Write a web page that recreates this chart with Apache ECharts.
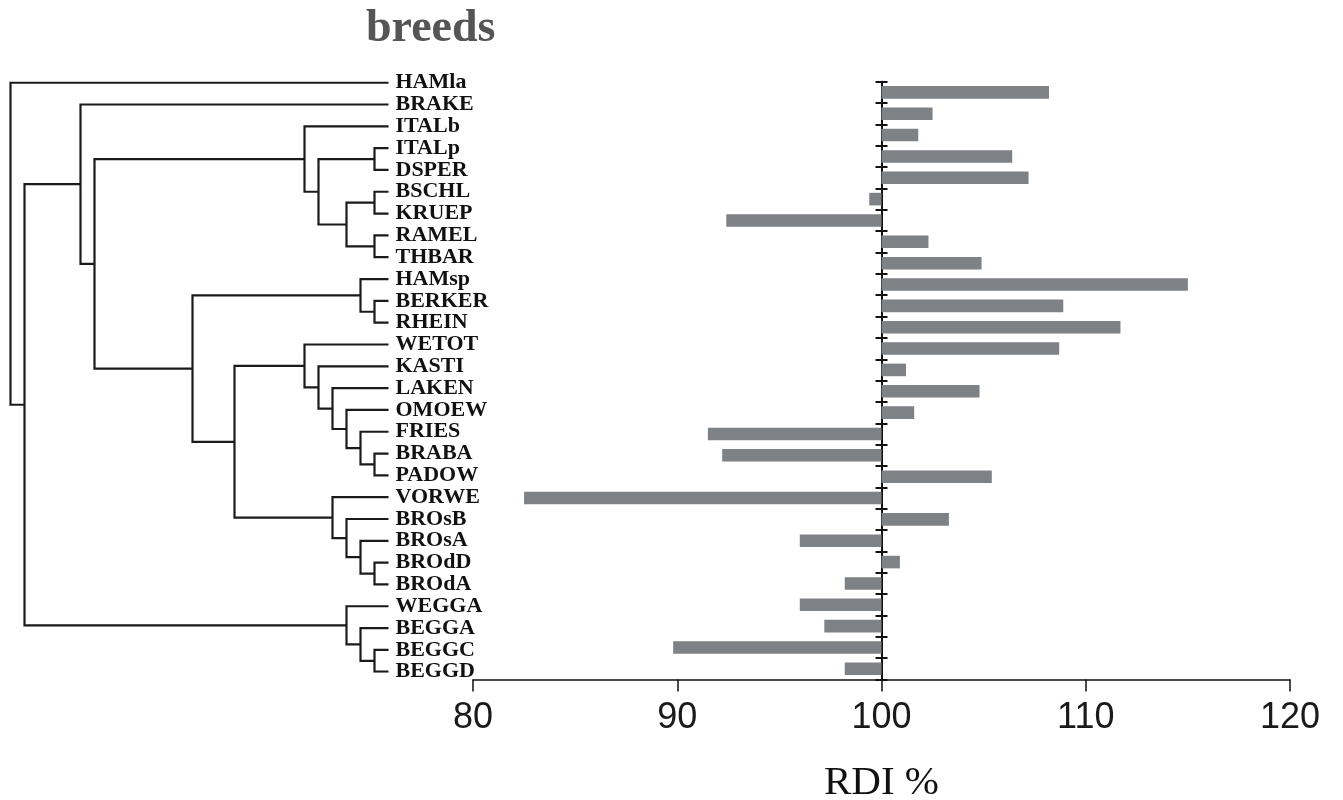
<!DOCTYPE html>
<html><head><meta charset="utf-8">
<script src="https://cdn.jsdelivr.net/npm/echarts@6/dist/echarts.min.js"></script>
<style>html,body{margin:0;padding:0;background:#fff}#c{width:1343px;height:800px}</style>
</head><body><div id="c"></div>
<script>
// ---- data ----
const breeds = ['HAMla','BRAKE','ITALb','ITALp','DSPER','BSCHL','KRUEP','RAMEL','THBAR','HAMsp','BERKER','RHEIN','WETOT','KASTI','LAKEN','OMOEW','FRIES','BRABA','PADOW','VORWE','BROsB','BROsA','BROdD','BROdA','WEGGA','BEGGA','BEGGC','BEGGD'];
const rdi = [108.2,102.5,101.8,106.4,107.2,99.4,92.4,102.3,104.9,115.0,108.9,111.7,108.7,101.2,104.8,101.6,91.5,92.2,105.4,82.5,103.3,96.0,100.9,98.2,96.0,97.2,89.8,98.2];
// dendrogram merges (node "m<i>" = i-th merge)
const mergeA = ['ITALp','BSCHL','RAMEL','m1','m0','ITALb','BERKER','HAMsp','BRABA','FRIES','OMOEW','LAKEN','KASTI','WETOT','BROdD','BROsA','BROsB','VORWE','m13','m7','m5','BRAKE','BEGGC','BEGGA','WEGGA','m21','HAMla'];
const mergeB = ['DSPER','KRUEP','THBAR','m2','m3','m4','RHEIN','m6','PADOW','m8','m9','m10','m11','m12','BROdA','m14','m15','m16','m17','m18','m19','m20','BEGGD','m22','m23','m24','m25'];
const mergeLevel = [1,1,1,3,5,6,1,2,1,2,3,4,5,6,1,2,3,4,11,14,21,22,1,2,3,26,27];
const xTicks = [80, 90, 100, 110, 120];
const baseline = 100;
const title = 'breeds';
const xName = 'RDI %';

// ---- build ----
const pos = {};
breeds.forEach((b, i) => { pos[b] = [0, i]; });
const links = [];
mergeA.forEach((a, i) => {
  const pa = pos[a], pb = pos[mergeB[i]], h = mergeLevel[i];
  links.push({ coords: [[pa[0], pa[1]], [h, pa[1]], [h, pb[1]], [pb[0], pb[1]]] });
  pos['m' + i] = [h, (pa[1] + pb[1]) / 2];
});
const maxLevel = Math.max(...mergeLevel);

const chart = echarts.init(document.getElementById('c'), null, { renderer: 'canvas' });
chart.setOption({
  animation: false,
  backgroundColor: '#fff',
  title: {
    text: title, left: 366, top: 6, padding: 0,
    textStyle: { fontFamily: 'Liberation Serif', fontWeight: 'bold', fontSize: 46, color: '#555' }
  },
  grid: [
    { left: 10.5, right: 1343 - 388.5, top: 82.7, bottom: 800 - 671.7, containLabel: false, outerBoundsMode: 'none' },
    { left: 473, right: 1343 - 1290, top: 81.7, bottom: 800 - 679.5, containLabel: false, outerBoundsMode: 'none' }
  ],
  xAxis: [
    { gridIndex: 0, type: 'value', min: 0, max: maxLevel, inverse: true, show: false },
    { gridIndex: 1, type: 'value', min: xTicks[0] - baseline, max: xTicks[xTicks.length - 1] - baseline,
      interval: xTicks[1] - xTicks[0],
      splitLine: { show: false },
      axisLine: { show: true, onZero: false, lineStyle: { color: '#111', width: 1.5 } },
      axisTick: { show: true, length: 12, lineStyle: { color: '#111', width: 1.5 } },
      axisLabel: { formatter: v => String(v + baseline), margin: 21, fontFamily: 'Liberation Sans', fontSize: 36, color: '#1a1a1a' },
      name: xName, nameLocation: 'middle', nameGap: 83,
      nameTextStyle: { fontFamily: 'Liberation Serif', fontSize: 41, color: '#111' }
    }
  ],
  yAxis: [
    { gridIndex: 0, type: 'value', min: 0, max: breeds.length - 1, inverse: true, show: false },
    { gridIndex: 0, type: 'category', data: breeds, inverse: true, boundaryGap: false, position: 'right',
      axisLine: { show: false }, axisTick: { show: false }, splitLine: { show: false },
      axisLabel: { interval: 0, margin: 7, fontFamily: 'Liberation Serif', fontWeight: 'bold', fontSize: 22, color: '#111', padding: [0, 0, 11, 0] }
    },
    { gridIndex: 1, type: 'category', data: breeds, inverse: true, position: 'left',
      axisLine: { show: true, onZero: true, onZeroAxisIndex: 1, lineStyle: { color: '#111', width: 2 } },
      axisTick: { show: true, interval: 0, length: 6, lineStyle: { color: '#111', width: 2 } },
      axisLabel: { show: false }, splitLine: { show: false }
    },
    { gridIndex: 1, type: 'category', data: breeds, inverse: true, position: 'left',
      axisLine: { show: true, onZero: true, onZeroAxisIndex: 1, lineStyle: { color: '#111', width: 2 } },
      axisTick: { show: true, inside: true, interval: 0, length: 6, lineStyle: { color: '#111', width: 2 } },
      axisLabel: { show: false }, splitLine: { show: false }
    }
  ],
  series: [
    { type: 'lines', coordinateSystem: 'cartesian2d', xAxisIndex: 0, yAxisIndex: 0, polyline: true,
      silent: true, data: links,
      lineStyle: { color: '#1a1a1a', width: 2.2, opacity: 1, curveness: 0 } },
    { type: 'bar', xAxisIndex: 1, yAxisIndex: 2, data: rdi.map(v => +(v - baseline).toFixed(2)),
      barCategoryGap: '41%', itemStyle: { color: '#7e8286' }, z: 1 }
  ]
});
</script></body></html>
